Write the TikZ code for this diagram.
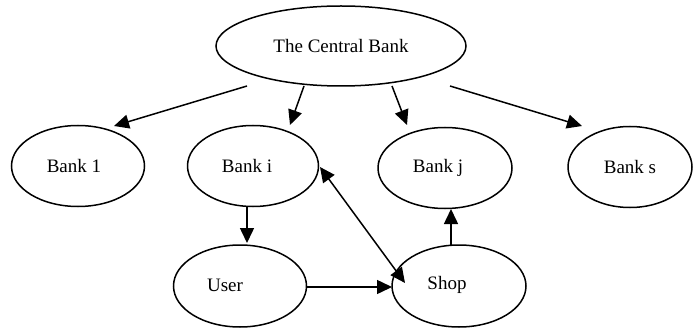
\documentclass[tikz,border=0pt]{standalone}
\usepackage{fontspec}
\setmainfont{Liberation Serif}
\usetikzlibrary{shapes.geometric,arrows.meta}
\begin{document}
\begin{tikzpicture}[x=1pt,y=1pt,
  oval/.style={draw,ellipse,line width=1.5pt,inner sep=0pt,minimum width=133pt,minimum height=81pt},
  txt/.style={font=\fontsize{19}{22}\selectfont},
  conn/.style={line width=1.5pt,-{Triangle[length=15pt,width=14pt]}},
  conn2/.style={line width=1.5pt,{Triangle[length=15pt,width=14pt]}-{Triangle[length=15pt,width=14pt]}}]
\useasboundingbox (0,0) rectangle (693,327);
\node[oval,minimum width=250pt,minimum height=80pt] (cb) at (341,281) {};
\node[txt] (cbt) at (341,281) {The Central Bank};
\node[oval] (b1) at (78,161) {};
\node[txt] (b1t) at (74,161) {Bank 1};
\node[oval,minimum width=131pt] (bi) at (253,161) {};
\node[txt] (bit) at (247,161) {Bank i};
\node[oval,minimum width=134pt] (bj) at (445,159) {};
\node[txt] (bjt) at (438,159) {Bank j};
\node[oval,minimum width=124pt] (bs) at (630,160) {};
\node[txt] (bst) at (630,160) {Bank s};
\node[oval,minimum width=133pt,minimum height=82pt] (us) at (240,41) {};
\node[txt] (ust) at (225,42) {User};
\node[oval,minimum width=134pt,minimum height=82pt] (sh) at (459,41) {};
\node[txt] (sht) at (447,42) {Shop};
\draw[conn] ([shift={(-94,-40)}]cb.center) -- ([shift={(36,40)}]b1.center);
\draw[conn] ([shift={(-37,-40)}]cb.center) -- ([shift={(37,41)}]bi.center);
\draw[conn] ([shift={(51,-40)}]cb.center) -- ([shift={(-38,43)}]bj.center);
\draw[conn] ([shift={(109,-40)}]cb.center) -- ([shift={(-48,41)}]bs.center);
\draw[conn] ([shift={(-6,-41)}]bi.center) -- ([shift={(7,43)}]us.center);
\draw[conn2] ([shift={(67,-1)}]bi.center) -- ([shift={(-54,3)}]sh.center);
\draw[conn] ([shift={(66,-1)}]us.center) -- ([shift={(-67,-1)}]sh.center);
\draw[conn] ([shift={(-8,40)}]sh.center) -- ([shift={(6,-41)}]bj.center);
\end{tikzpicture}
\end{document}
